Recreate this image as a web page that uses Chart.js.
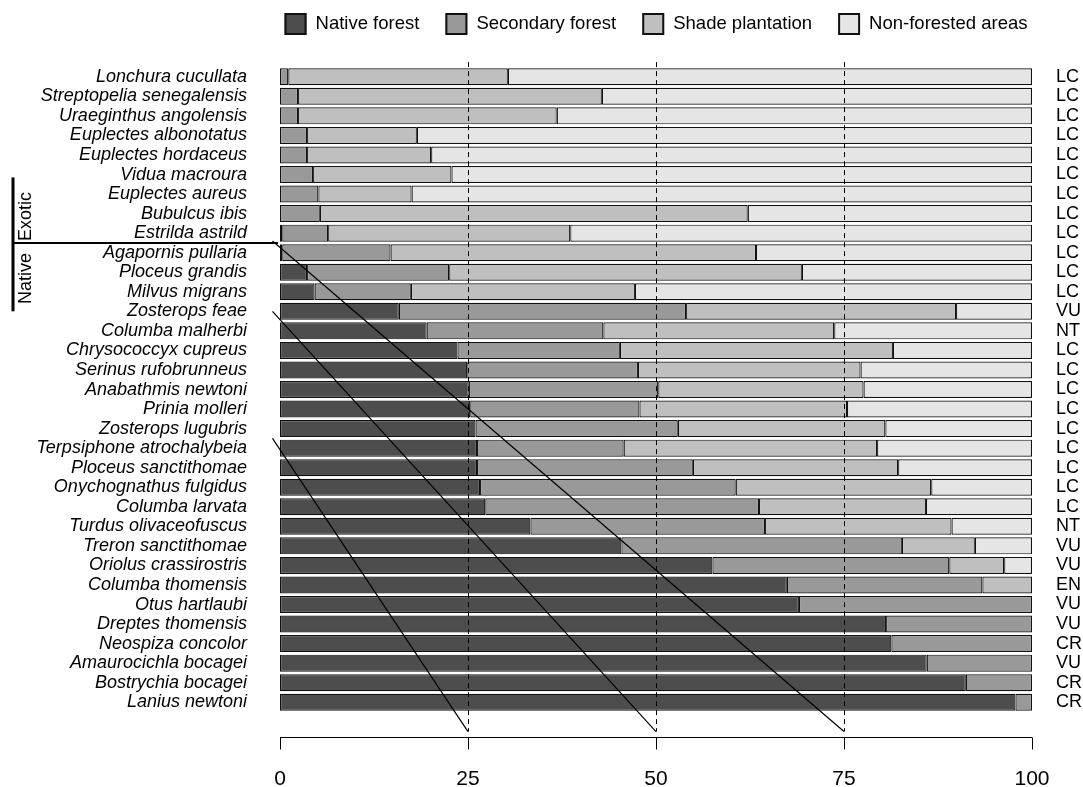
<!DOCTYPE html>
<html>
<head>
<meta charset="utf-8">
<script src="https://cdn.jsdelivr.net/npm/chart.js@4"></script>
<style>
body { margin: 0; background: #fff; }
#wrap { width: 1083px; height: 787px; }
</style>
</head>
<body>
<div id="wrap"><canvas id="habitatChart" width="1083" height="787"></canvas></div>
<script>
const species = [
    "Lonchura cucullata", "Streptopelia senegalensis", "Uraeginthus angolensis",
    "Euplectes albonotatus", "Euplectes hordaceus", "Vidua macroura",
    "Euplectes aureus", "Bubulcus ibis", "Estrilda astrild",
    "Agapornis pullaria", "Ploceus grandis", "Milvus migrans",
    "Zosterops feae", "Columba malherbi", "Chrysococcyx cupreus",
    "Serinus rufobrunneus", "Anabathmis newtoni", "Prinia molleri",
    "Zosterops lugubris", "Terpsiphone atrochalybeia", "Ploceus sanctithomae",
    "Onychognathus fulgidus", "Columba larvata", "Turdus olivaceofuscus",
    "Treron sanctithomae", "Oriolus crassirostris", "Columba thomensis",
    "Otus hartlaubi", "Dreptes thomensis", "Neospiza concolor",
    "Amaurocichla bocagei", "Bostrychia bocagei", "Lanius newtoni"
];

const status = [
    "LC","LC","LC","LC","LC","LC","LC","LC","LC","LC","LC","LC",
    "VU","NT","LC","LC","LC","LC","LC","LC","LC","LC","LC","NT",
    "VU","VU","EN","VU","VU","CR","VU","CR","CR"
];

const nativeForest = [
    0, 0, 0, 0, 0, 0, 0, 0, 0.3, 0.3, 3.6, 4.6,
    15.8, 19.5, 23.6, 24.9, 25.1, 25.3, 26.0, 26.2, 26.2, 26.6, 27.3, 33.3,
    45.4, 57.5, 67.4, 69.0, 80.6, 81.3, 86.0, 91.2, 97.8
];

const secondaryForest = [
    1.1, 2.4, 2.4, 3.6, 3.6, 4.4, 5.1, 5.3, 6.1, 14.4, 18.9, 12.8,
    38.2, 23.5, 21.6, 22.7, 25.2, 22.5, 26.9, 19.5, 28.7, 34.0, 36.4, 31.2,
    37.3, 31.5, 26.0, 31.0, 19.4, 18.7, 14.0, 8.8, 2.2
];

const shadePlantation = [
    29.2, 40.4, 34.4, 14.6, 16.5, 18.4, 12.4, 56.9, 32.2, 48.6, 46.9, 29.8,
    35.9, 30.7, 36.3, 29.6, 27.3, 27.6, 27.6, 33.7, 27.3, 26.0, 22.2, 24.8,
    9.7, 7.3, 6.6, 0, 0, 0, 0, 0, 0
];

const nonForested = [
    69.7, 57.2, 63.2, 81.8, 79.9, 77.2, 82.5, 37.8, 61.4, 36.7, 30.6, 52.8,
    10.1, 26.3, 18.5, 22.8, 22.4, 24.6, 19.5, 20.6, 17.8, 13.4, 14.1, 10.7,
    7.6, 3.7, 0, 0, 0, 0, 0, 0, 0
];

const xTicks = [0, 25, 50, 75, 100];
const guideLines = [25, 50, 75];
const groupLabels = ["Exotic", "Native"];
const groupSplit = 8.5;

// slanted connector lines, in axis units [x, row index]
const connectors = [
    [[-1, 8.4], [75, 33.5]],
    [[-1, 12.0], [50, 33.5]],
    [[-1, 18.5], [25, 33.5]]
];

const font = "'Liberation Sans', Arial, sans-serif";

const extras = {
    id: "extras",
    afterDatasetsDraw(chart) {
        const ctx = chart.ctx;
        const xs = chart.scales.x;
        const ys = chart.scales.y;
        const area = chart.chartArea;

        ctx.save();
        ctx.strokeStyle = "#000";

        // dashed guides
        ctx.lineWidth = 1;
        ctx.setLineDash([5, 4]);
        guideLines.forEach(v => {
            const px = Math.round(xs.getPixelForValue(v)) + 0.5;
            ctx.beginPath();
            ctx.moveTo(px, ys.getPixelForValue(-0.75));
            ctx.lineTo(px, ys.getPixelForValue(33.5));
            ctx.stroke();
        });
        ctx.setLineDash([]);

        // connectors
        ctx.lineWidth = 1.2;
        connectors.forEach(c => {
            ctx.beginPath();
            ctx.moveTo(xs.getPixelForValue(c[0][0]), ys.getPixelForValue(c[0][1]));
            ctx.lineTo(xs.getPixelForValue(c[1][0]), ys.getPixelForValue(c[1][1]));
            ctx.stroke();
        });

        // x axis line and ticks
        const axisY = Math.round(xs.top + 25) + 0.5;
        ctx.lineWidth = 1;
        ctx.beginPath();
        ctx.moveTo(xs.getPixelForValue(xTicks[0]), axisY);
        ctx.lineTo(xs.getPixelForValue(xTicks[xTicks.length - 1]), axisY);
        xTicks.forEach(v => {
            const px = Math.round(xs.getPixelForValue(v)) + 0.5;
            ctx.moveTo(px, axisY);
            ctx.lineTo(px, axisY + 12);
        });
        ctx.stroke();

        // group bracket on the left
        const splitY = ys.getPixelForValue(groupSplit);
        ctx.lineWidth = 3;
        ctx.beginPath();
        ctx.moveTo(13, ys.getPixelForValue(5.15));
        ctx.lineTo(13, ys.getPixelForValue(12.0));
        ctx.stroke();
        ctx.lineWidth = 2;
        ctx.beginPath();
        ctx.moveTo(12, splitY);
        ctx.lineTo(area.left - 2, splitY);
        ctx.stroke();

        ctx.fillStyle = "#000";
        ctx.font = "18px " + font;
        ctx.textBaseline = "middle";
        ctx.save();
        ctx.translate(26, splitY - 2);
        ctx.rotate(-Math.PI / 2);
        ctx.textAlign = "left";
        ctx.fillText(groupLabels[0], 0, 0);
        ctx.restore();
        ctx.save();
        ctx.translate(26, splitY + 10);
        ctx.rotate(-Math.PI / 2);
        ctx.textAlign = "right";
        ctx.fillText(groupLabels[1], 0, 0);
        ctx.restore();

        // legend over the plot
        const box = 22;
        const gap = 26;
        ctx.font = "18.5px " + font;
        const sets = chart.data.datasets;
        const widths = sets.map(d => box + 9 + ctx.measureText(d.label).width);
        const total = widths.reduce((a, b) => a + b, 0) + gap * (sets.length - 1);
        let lx = (area.left + area.right) / 2 - total / 2;
        const ly = 13;
        sets.forEach((d, i) => {
            ctx.fillStyle = d.backgroundColor;
            ctx.fillRect(lx, ly, box, box);
            ctx.lineWidth = 2;
            ctx.strokeStyle = "#111";
            ctx.strokeRect(lx + 1, ly + 1, box - 2, box - 2);
            ctx.fillStyle = "#000";
            ctx.textAlign = "left";
            ctx.fillText(d.label, lx + box + 9, ly + box / 2);
            lx += widths[i] + gap;
        });

        ctx.restore();
    }
};

function makeSet(label, data, color) {
    return {
        label: label,
        data: data,
        backgroundColor: color,
        borderColor: "#111",
        borderWidth: 1.2,
        borderSkipped: false,
        barPercentage: 0.87,
        categoryPercentage: 1
    };
}

new Chart(
document.getElementById("habitatChart"),
{
    type: "bar",
    data: {
        labels: species,
        datasets: [
            makeSet("Native forest", nativeForest, "#4d4d4d"),
            makeSet("Secondary forest", secondaryForest, "#999999"),
            makeSet("Shade plantation", shadePlantation, "#bfbfbf"),
            makeSet("Non-forested areas", nonForested, "#e5e5e5")
        ]
    },
    options: {
        indexAxis: "y",
        responsive: false,
        animation: false,
        layout: { padding: { top: 67, left: 0, right: 0, bottom: 0 } },
        plugins: {
            legend: { display: false },
            tooltip: { enabled: false }
        },
        scales: {
            x: {
                stacked: true,
                min: 0,
                max: 100,
                grid: { display: false, drawTicks: false },
                border: { display: false },
                afterBuildTicks: s => { s.ticks = xTicks.map(v => ({ value: v })); },
                afterFit: s => {
                    s.height = 75;
                    s.paddingLeft = 0;
                    s.paddingRight = 0;
                },
                ticks: {
                    color: "#000",
                    padding: 55,
                    font: { family: font, size: 21 }
                }
            },
            y: {
                stacked: true,
                grid: { display: false, drawTicks: false },
                border: { display: false },
                afterFit: s => { s.width = 280; },
                ticks: {
                    color: "#000",
                    autoSkip: false,
                    padding: 33,
                    font: { family: font, size: 18, style: "italic" }
                }
            },
            y2: {
                type: "category",
                position: "right",
                labels: status,
                offset: true,
                grid: { display: false, drawTicks: false },
                border: { display: false },
                afterFit: s => { s.width = 51; },
                ticks: {
                    color: "#000",
                    autoSkip: false,
                    padding: 24,
                    font: { family: font, size: 18 }
                }
            }
        }
    },
    plugins: [extras]
}
);
</script>
</body>
</html>
